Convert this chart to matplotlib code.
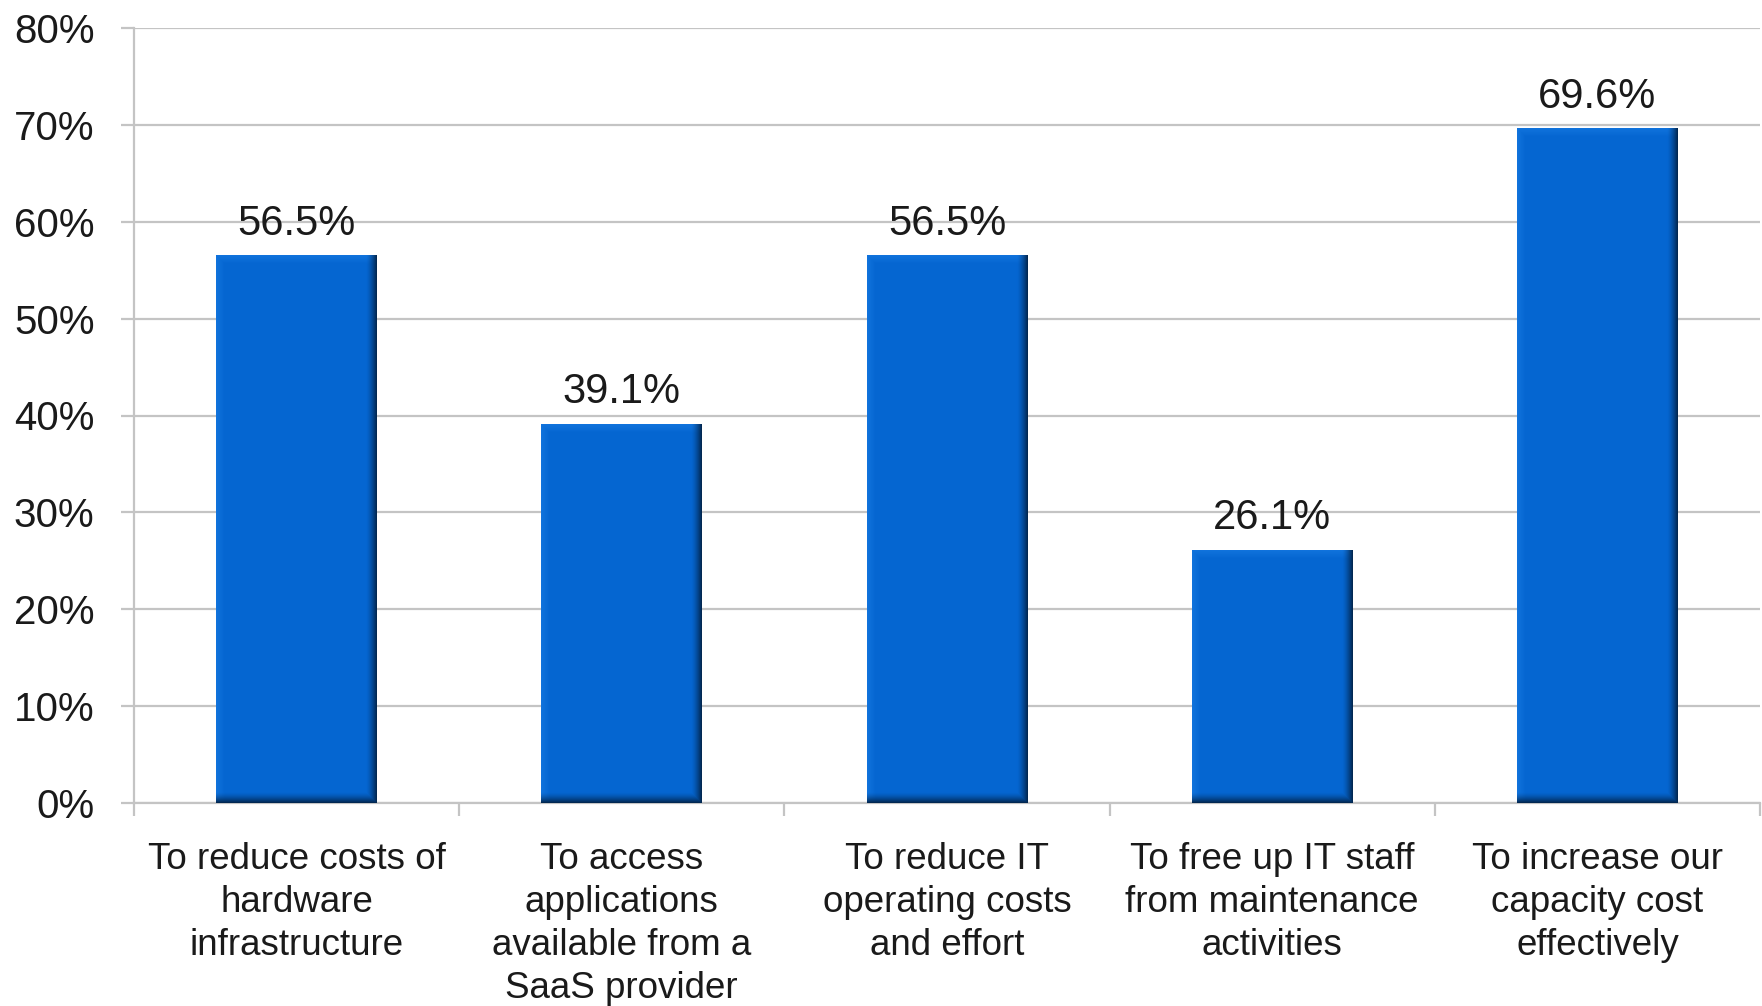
import numpy as np
import matplotlib
matplotlib.use('Agg')
import matplotlib.pyplot as plt
from matplotlib.ticker import FixedLocator, PercentFormatter

categories = ['To reduce costs of\nhardware\ninfrastructure',
              'To access\napplications\navailable from a\nSaaS provider',
              'To reduce IT\noperating costs\nand effort',
              'To free up IT staff\nfrom maintenance\nactivities',
              'To increase our\ncapacity cost\neffectively']
values = [56.5, 39.1, 56.5, 26.1, 69.6]
value_labels = ['56.5%', '39.1%', '56.5%', '26.1%', '69.6%']
yticks = [0, 10, 20, 30, 40, 50, 60, 70, 80]

plt.rcParams['font.family'] = ['Liberation Sans', 'DejaVu Sans']

GRID = '#c4c4c4'
TEXT = '#1a1a1a'
BASE = np.array([0.02, 0.40, 0.82])


def bevel_image(w, h, b=11):
    # flat blue face with a darker rim on the right/bottom, lighter on the top/left
    x = np.arange(w)[None, :] + 0.5
    y = np.arange(h)[:, None] + 0.5
    right = np.clip(1 - (w - x) / b, 0, 1)
    bottom = np.clip(1 - (h - y) / b, 0, 1)
    left = np.clip(1 - x / (b * 0.8), 0, 1)
    top = np.clip(1 - y / (b * 0.8), 0, 1)
    dark = np.maximum(right, bottom) ** 1.5
    light = np.maximum(left, top) * (1 - dark)
    img = BASE[None, None, :] * (1 - 0.65 * dark[..., None])
    img = img + (np.array([0.15, 0.55, 0.95]) - BASE)[None, None, :] * 0.35 * light[..., None]
    return np.clip(img, 0, 1)


fig = plt.figure(figsize=(17.62, 10.06), dpi=100)
ax = fig.add_axes([134 / 1762, 1 - 803 / 1006, (1760 - 134) / 1762, (803 - 28) / 1006])

x = np.arange(len(values))
bars = ax.bar(x, values, width=0.495, color=tuple(BASE), zorder=3, linewidth=0)

px_per_unit = 97 / 10
for bar in bars:
    w_px = int(round(bar.get_width() * 325))
    h_px = max(int(round(bar.get_height() * px_per_unit)), 2)
    ax.imshow(bevel_image(w_px, h_px),
              extent=(bar.get_x(), bar.get_x() + bar.get_width(), 0, bar.get_height()),
              aspect='auto', interpolation='bilinear', zorder=3.5)

for bar, lab in zip(bars, value_labels):
    ax.annotate(lab, (bar.get_x() + bar.get_width() / 2, bar.get_height()),
                xytext=(0, 15), textcoords='offset points',
                ha='center', va='baseline', fontsize=30, color=TEXT)

ax.set_xlim(-0.5, len(values) - 0.5)
ax.set_ylim(0, 80)
ax.set_yticks(yticks)
ax.yaxis.set_major_formatter(PercentFormatter(decimals=0))
ax.grid(axis='y', color=GRID, linewidth=1.6, zorder=0)

ax.set_xticks(x)
ax.set_xticklabels(categories, fontsize=26.5, color=TEXT, linespacing=1.3)
ax.xaxis.set_minor_locator(FixedLocator(np.arange(len(values) + 1) - 0.5))
ax.tick_params(axis='x', which='major', length=0, pad=28)
ax.tick_params(axis='x', which='minor', length=9.4, width=1.6, color=GRID)
ax.tick_params(axis='y', length=9.4, width=1.6, color=GRID, labelsize=29,
               labelcolor=TEXT, pad=19)

for side in ['top', 'right']:
    ax.spines[side].set_visible(False)
for side in ['left', 'bottom']:
    ax.spines[side].set_color(GRID)
    ax.spines[side].set_linewidth(1.6)

fig.savefig('out.png', dpi=100, facecolor='white')
